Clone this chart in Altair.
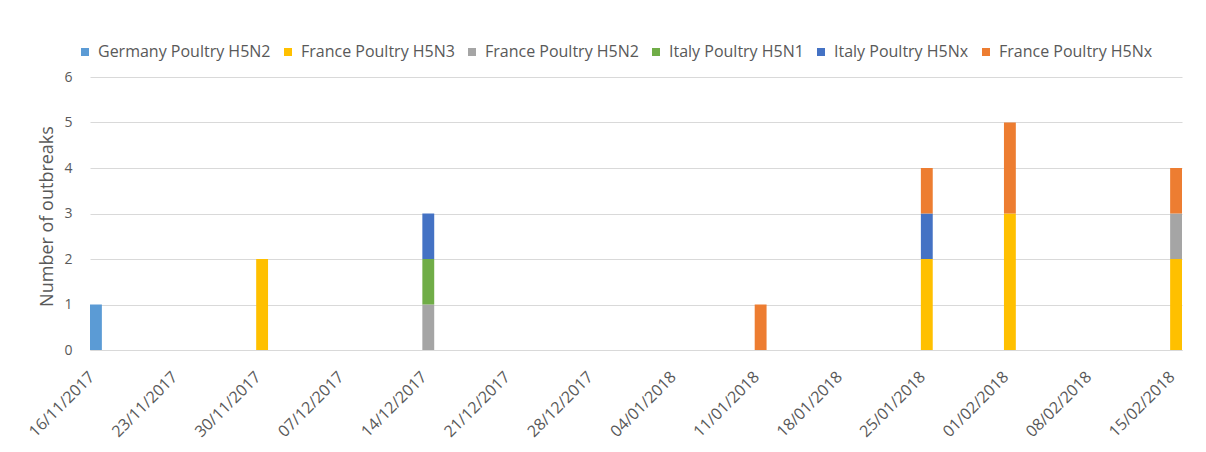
import altair as alt
import pandas as pd

# ---- data ----
dates = ["16/11/2017", "30/11/2017", "14/12/2017", "11/01/2018",
         "25/01/2018", "01/02/2018", "15/02/2018"]
series = ["Germany Poultry H5N2", "France Poultry H5N3", "France Poultry H5N2",
          "Italy Poultry H5N1", "Italy Poultry H5Nx", "France Poultry H5Nx"]
germany_h5n2 = [1, 0, 0, 0, 0, 0, 0]
france_h5n3 = [0, 2, 0, 0, 2, 3, 2]
france_h5n2 = [0, 0, 1, 0, 0, 0, 1]
italy_h5n1 = [0, 0, 1, 0, 0, 0, 0]
italy_h5nx = [0, 0, 1, 0, 1, 0, 0]
france_h5nx = [0, 0, 0, 1, 1, 2, 1]
colors = ["#5B9BD5", "#FFC000", "#A5A5A5", "#70AD47", "#4472C4", "#ED7D31"]

tick_labels = ["16/11/2017", "23/11/2017", "30/11/2017", "07/12/2017",
               "14/12/2017", "21/12/2017", "28/12/2017", "04/01/2018",
               "11/01/2018", "18/01/2018", "25/01/2018", "01/02/2018",
               "08/02/2018", "15/02/2018"]

all_days = [d.strftime("%d/%m/%Y") for d in
            pd.date_range("2017-11-16", "2018-02-15", freq="D")]

values = [germany_h5n2, france_h5n3, france_h5n2, italy_h5n1, italy_h5nx, france_h5nx]
rows = []
for si, (name, vals) in enumerate(zip(series, values)):
    for d, v in zip(dates, vals):
        if v > 0:
            rows.append({"date": d, "series": name, "order": si, "count": v})
df = pd.DataFrame(rows)

FONT = "Open Sans"
GREY = "#595959"

chart = alt.Chart(df).mark_bar().encode(
    x=alt.X("date:N",
            scale=alt.Scale(domain=all_days, paddingInner=0, paddingOuter=0),
            sort=None,
            axis=alt.Axis(title=None, values=tick_labels, labelAngle=-45,
                          labelAlign="right", labelBaseline="middle",
                          labelOffset=-4,
                          ticks=False, domainColor="#D9D9D9", labelColor=GREY,
                          labelFont=FONT, labelFontSize=16, labelPadding=24,
                          grid=False)),
    y=alt.Y("count:Q", stack="zero",
            scale=alt.Scale(domain=[0, 6], nice=False),
            axis=alt.Axis(title="Number of outbreaks", values=[0, 1, 2, 3, 4, 5, 6],
                          domain=False, ticks=False, gridColor="#D9D9D9",
                          labelColor=GREY, labelFont=FONT, labelFontSize=14,
                          labelPadding=18, titleColor=GREY, titleFont=FONT,
                          titleFontSize=18, titleFontWeight="normal",
                          titleX=-43, titleY=139, titleAngle=270,
                          titleAlign="center", titleBaseline="middle")),
    color=alt.Color("series:N",
                    scale=alt.Scale(domain=series, range=colors),
                    legend=alt.Legend(title=None, orient="none", legendX=-13,
                                      legendY=-33, direction="horizontal",
                                      columns=6, symbolType="square", symbolSize=64,
                                      symbolStrokeWidth=0, labelFont=FONT,
                                      labelFontSize=16, labelColor=GREY,
                                      labelOffset=5, columnPadding=9,
                                      labelLimit=300)),
    order=alt.Order("order:Q", sort="ascending"),
).properties(
    width=1092, height=273,
    autosize=alt.AutoSizeParams(type="none"),
    padding={"left": 82, "top": 69, "right": 16, "bottom": 94},
).configure_view(stroke=None)

chart.save("out.html", embed_options={"renderer": "svg", "actions": False})
